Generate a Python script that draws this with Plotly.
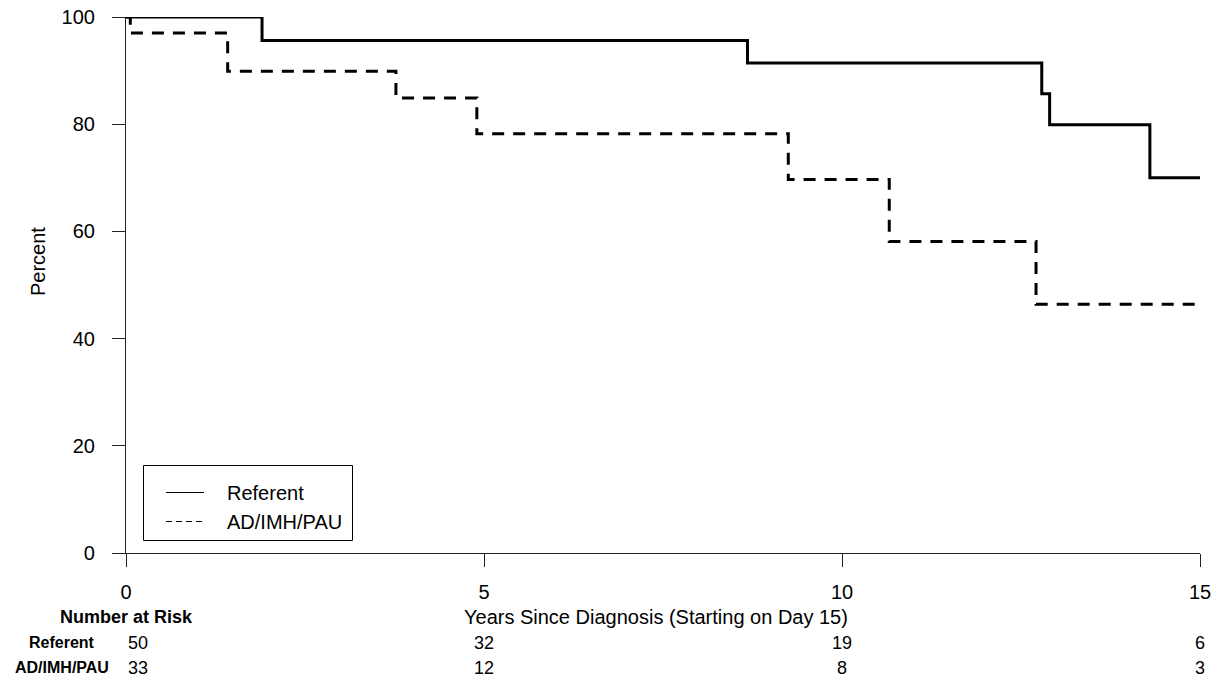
import plotly.graph_objects as go

# Kaplan-Meier step data (years, percent)
ref_time = [0, 1.90, 8.68, 12.79, 12.90, 14.30, 15]
ref_surv = [100, 95.6, 91.4, 85.7, 79.9, 70.0, 70.0]
ad_time = [0, 0.06, 1.42, 3.77, 4.90, 9.25, 10.66, 12.71, 15]
ad_surv = [100, 97.0, 89.9, 84.9, 78.2, 69.7, 58.1, 46.4, 46.4]

# Number at risk table
risk_times = [0, 5, 10, 15]
risk_ref = [50, 32, 19, 6]
risk_ad = [33, 12, 8, 3]
group_names = ["Referent", "AD/IMH/PAU"]

x_ticks = [0, 5, 10, 15]
y_ticks = [0, 20, 40, 60, 80, 100]

FONT = "Liberation Sans, Arial, Helvetica, sans-serif"
DASH = "12px,9px"

fig = go.Figure()
fig.add_trace(go.Scatter(x=ref_time, y=ref_surv, mode="lines", line_shape="hv",
                         line=dict(color="black", width=3), cliponaxis=False,
                         name=group_names[0], showlegend=False))
fig.add_trace(go.Scatter(x=ad_time, y=ad_surv, mode="lines", line_shape="hv",
                         line=dict(color="black", width=3, dash=DASH), cliponaxis=False,
                         name=group_names[1], showlegend=False))

L, R, T, B = 126, 18, 17, 129
W, H = 1218, 682
pw, ph = W - L - R, H - T - B

def px_to_paper_x(px):
    return (px - L) / pw

def px_to_paper_y(py):
    return (H - B - py) / ph

ann = []
ann.append(dict(text="Percent", x=px_to_paper_x(38), y=px_to_paper_y(262), xref="paper", yref="paper",
                textangle=-90, showarrow=False, font=dict(size=20), xanchor="center", yanchor="middle"))
ann.append(dict(text="Years Since Diagnosis (Starting on Day 15)", x=px_to_paper_x(656), y=px_to_paper_y(617),
                xref="paper", yref="paper", showarrow=False, font=dict(size=20),
                xanchor="center", yanchor="middle"))
ann.append(dict(text="<b>Number at Risk</b>", x=0, y=px_to_paper_y(617), xref="x", yref="paper",
                showarrow=False, font=dict(size=18), xanchor="center", yanchor="middle"))
row_y = [px_to_paper_y(642.5), px_to_paper_y(667.5)]
for name, ry in zip(group_names, row_y):
    ann.append(dict(text=f"<b>{name}</b>", x=px_to_paper_x(62), y=ry, xref="paper", yref="paper",
                    showarrow=False, font=dict(size=16), xanchor="center", yanchor="middle"))
for vals, ry in zip([risk_ref, risk_ad], row_y):
    for t, v in zip(risk_times, vals):
        ann.append(dict(text=str(v), x=t, y=ry, xref="x", yref="paper", showarrow=False,
                        font=dict(size=18), xanchor="left" if t == 0 else "center", yanchor="middle"))

# hand-built legend box (paper coordinates)
shapes = []
shapes.append(dict(type="rect", xref="paper", yref="paper",
                   x0=px_to_paper_x(143.5), x1=px_to_paper_x(352.5),
                   y0=px_to_paper_y(540.5), y1=px_to_paper_y(465.5),
                   line=dict(color="black", width=1), fillcolor="white", layer="above"))
leg_y = [492.5, 521.5]
leg_dash = ["solid", "6px,4px"]
for name, ly, d in zip(group_names, leg_y, leg_dash):
    shapes.append(dict(type="line", xref="paper", yref="paper",
                       x0=px_to_paper_x(166), x1=px_to_paper_x(204),
                       y0=px_to_paper_y(ly), y1=px_to_paper_y(ly),
                       line=dict(color="black", width=1.1, dash=d), layer="above"))
    ann.append(dict(text=name, x=px_to_paper_x(225), y=px_to_paper_y(ly), xref="paper", yref="paper",
                    showarrow=False, font=dict(size=20), xanchor="left", yanchor="middle"))

axis_common = dict(showgrid=False, zeroline=False, showline=True, linecolor="#222", linewidth=1.2,
                   ticks="outside", ticklen=13, tickwidth=1.2, tickcolor="#222", automargin=False,
                   tickfont=dict(size=20, color="black"))

fig.update_layout(
    width=W, height=H,
    margin=dict(l=L, r=R, t=T, b=B, autoexpand=False),
    paper_bgcolor="white", plot_bgcolor="white",
    font=dict(family=FONT, color="black"),
    xaxis=dict(range=[0, 15], tickvals=x_ticks, ticklabelstandoff=8, **axis_common),
    yaxis=dict(range=[0, 100], tickvals=y_ticks, ticklabelstandoff=13, **axis_common),
    showlegend=False,
    annotations=ann,
    shapes=shapes,
)

fig.write_html("out.html", config={"displayModeBar": False},
               post_script="document.body.style.margin='0px';document.body.style.overflow='hidden';")
